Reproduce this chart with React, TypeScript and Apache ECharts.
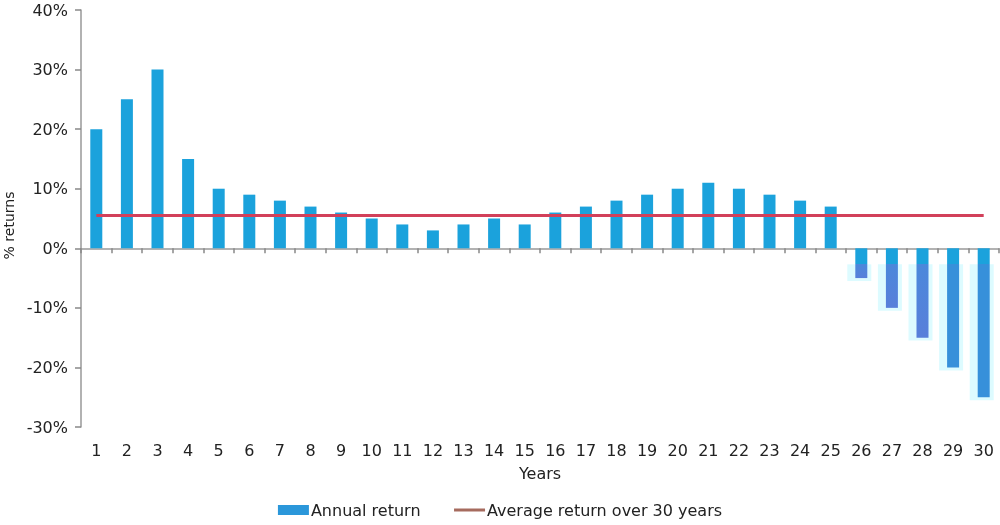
import React, { useEffect, useRef } from "react";
import * as echarts from "echarts";

const years = Array.from({ length: 30 }, (_, i) => String(i + 1));
const annualReturn = [20, 25, 30, 15, 10, 9, 8, 7, 6, 5, 4, 3, 4, 5, 4, 6, 7, 8, 9, 10, 11, 10, 9, 8, 7, -5, -10, -15, -20, -25];
const averageReturn = 5.5;
const averageLine = years.map(() => averageReturn);

const FONT = "'DejaVu Sans', 'Noto Sans', sans-serif";
const BLUE = "#1ba2dc";
const NEG_BLUE = "#3790da";

export default function App() {
  const ref = useRef<HTMLDivElement>(null);
  useEffect(() => {
    const chart = echarts.init(ref.current!, null, { renderer: "svg" });
    const barData = annualReturn.map((v) => {
      if (v >= 0) return { value: v, itemStyle: { color: BLUE } };
      const f = Math.min(1, 2.7 / Math.abs(v));
      return {
        value: v,
        itemStyle: {
          color: new echarts.graphic.LinearGradient(0, 0, 0, 1, [
            { offset: 0, color: BLUE },
            { offset: f, color: BLUE },
            { offset: f, color: v > -20 ? "#4b88db" : NEG_BLUE },
            { offset: 1, color: v > -20 ? "#587fda" : NEG_BLUE },
          ]),
        },
      };
    });
    const glowData = annualReturn.map((v, i) => [i, v]);
    chart.setOption({
      animation: false,
      textStyle: { fontFamily: FONT },
      grid: { left: 81, top: 10, bottom: 98, right: 1, outerBoundsMode: "none", containLabel: false },
      legend: {
        bottom: 2,
        left: "center",
        itemWidth: 31,
        itemHeight: 10,
        itemGap: 32,
        textStyle: { fontSize: 16, color: "#222", fontFamily: FONT, padding: [0, 0, 0, -3] },
        data: [
          { name: "Annual return", icon: "rect", itemStyle: { color: "#2b97da" } },
          {
            name: "Average return over 30 years",
            lineStyle: { color: "#a66b5e", width: 3 },
            itemStyle: { opacity: 0 },
          },
        ],
      },
      xAxis: [
        {
          type: "category",
          data: years,
          position: "bottom",
          axisLine: { show: false, onZero: false },
          axisTick: { show: false },
          axisLabel: { fontSize: 16, color: "#222", margin: 15, fontFamily: FONT },
          name: "Years",
          nameLocation: "middle",
          nameGap: 38,
          nameTextStyle: { fontSize: 16, color: "#222", fontFamily: FONT },
        },
        {
          type: "category",
          data: years,
          position: "bottom",
          axisLine: { show: true, onZero: true, lineStyle: { color: "#999", width: 1.5 } },
          axisTick: { show: true, length: 5, lineStyle: { color: "#888", width: 1.5 } },
          axisLabel: { show: false },
        },
      ],
      yAxis: {
        type: "value",
        min: -30,
        max: 40,
        interval: 10,
        axisLine: { show: true, lineStyle: { color: "#999", width: 1.5 } },
        axisTick: { show: true, length: 6, lineStyle: { color: "#888", width: 1.5 } },
        splitLine: { show: false },
        axisLabel: { formatter: "{value}%", fontSize: 16, color: "#222", margin: 13, fontFamily: FONT },
        name: "% returns",
        nameLocation: "middle",
        nameGap: 62,
        nameTextStyle: { fontSize: 14, color: "#222", fontFamily: FONT, padding: [0, 14, 0, 0] },
      },
      series: [
        {
          type: "custom",
          name: "glow",
          xAxisIndex: 0,
          silent: true,
          z: 1,
          data: glowData,
          renderItem: (params: any, api: any) => {
            const v = api.value(1);
            if (v >= 0) return null;
            const top = api.coord([api.value(0), -2.7]);
            const bot = api.coord([api.value(0), v - 0.5]);
            return {
              type: "rect",
              shape: { x: top[0] - 14, y: top[1], width: 24, height: bot[1] - top[1] },
              style: { fill: "#ddfbff" },
            };
          },
        },
        {
          type: "bar",
          name: "Annual return",
          xAxisIndex: 0,
          barWidth: 12,
          z: 2,
          data: barData,
        },
        {
          type: "line",
          name: "Average return over 30 years",
          xAxisIndex: 0,
          data: averageLine,
          symbol: "none",
          z: 3,
          lineStyle: { color: "#d2405a", width: 3 },
          itemStyle: { color: "#d2405a" },
        },
      ],
    });
    return () => chart.dispose();
  }, []);
  return <div ref={ref} style={{ position: "fixed", left: 0, top: 0, width: 1000, height: 525 }} />;
}
